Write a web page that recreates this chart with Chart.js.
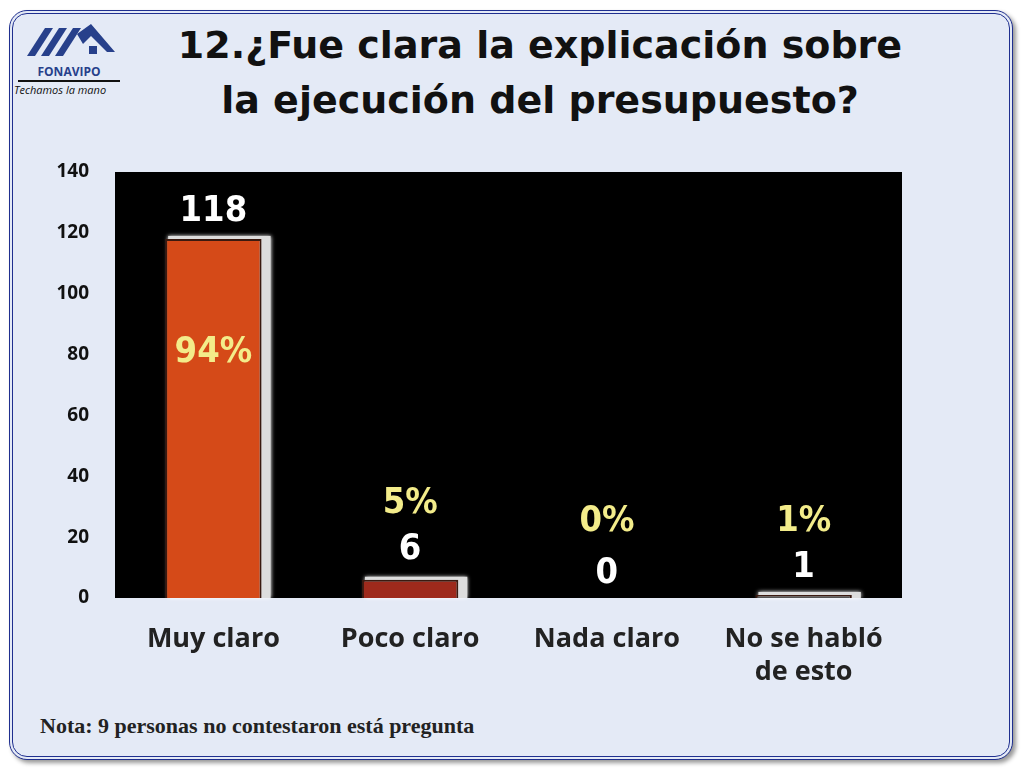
<!DOCTYPE html>
<html><head><meta charset="utf-8">
<script src="https://cdn.jsdelivr.net/npm/chart.js@4"></script>
<style>
html,body{margin:0;padding:0;width:1024px;height:768px;overflow:hidden;background:#fff;font-family:"Open Sans",sans-serif}
#frame{position:absolute;left:9px;top:10px;width:996px;height:742px;border:4px double #1f2f8f;border-radius:18px;background:#e4eaf6;box-shadow:3px 3px 4px #999}
#title{position:absolute;left:110px;width:860px;top:18px;text-align:center;font-family:"DejaVu Sans",sans-serif;font-weight:bold;font-size:38px;line-height:55px;color:#111}
#note{position:absolute;left:40px;top:713px;font-family:"Liberation Serif",serif;font-weight:bold;font-size:22px;color:#222}
#logo{position:absolute;left:14px;top:22px;width:110px;text-align:center}
#c{position:absolute;left:0;top:0}
</style></head><body>
<div id="frame"></div>
<div id="logo">
<svg width="100" height="36" viewBox="0 0 100 36"><g fill="#27408b"><polygon points="8,34 26,6 34,6 16,34"/><polygon points="22,34 40,6 48,6 30,34"/><polygon points="36,34 54,6 62,6 44,34"/><polygon points="58,12 72,2 96,30 88,30 72,14 64,22"/><rect x="70" y="24" width="8" height="8"/></g></svg>
<div style="font-weight:bold;font-size:12px;color:#27408b;border-bottom:2px solid #111;margin:0 4px">FONAVIPO</div>
<div style="font-style:italic;font-size:11px;color:#111;text-align:left">Techamos la mano</div>
</div>
<div id="title">12.¿Fue clara la explicación sobre<br>la ejecución del presupuesto?</div>
<div id="note">Nota: 9 personas no contestaron está pregunta</div>
<canvas id="c" width="1024" height="768"></canvas>
<script>
const categories=[["Muy claro"],["Poco claro"],["Nada claro"],["No se habló","de esto"]];
const values=[118,6,0,1];
const percents=["94%","5%","0%","1%"];
const barColors=["#d54a18","#9e2a1c","#555555","#555555"];
const yTicks=[0,20,40,60,80,100,120,140];

const deco={id:"deco",
beforeDraw(ch){const a=ch.chartArea,c=ch.ctx;c.save();c.fillStyle="#000";c.fillRect(a.left,a.top,a.right-a.left,a.bottom-a.top);c.restore();},
beforeDatasetsDraw(ch){const c=ch.ctx,m=ch.getDatasetMeta(0);c.save();c.fillStyle="#ddd";c.shadowColor="#fff";c.shadowBlur=4;
m.data.forEach((b,i)=>{if(values[i]<=0)return;const w=b.width;c.fillRect(b.x-w/2+3,b.y-3,w+6,b.base-b.y+3);});c.restore();},
afterDatasetsDraw(ch){const c=ch.ctx,m=ch.getDatasetMeta(0),y=ch.scales.y;c.save();c.textAlign="center";c.textBaseline="middle";c.font="bold 36px 'DejaVu Sans Condensed', sans-serif";
m.data.forEach((b,i)=>{
 if(i===0){c.fillStyle="#fff";c.fillText(String(values[i]),b.x,y.getPixelForValue(127));c.fillStyle="#f3ec8a";c.fillText(percents[i],b.x,y.getPixelForValue(80.5));}
 else{const vy=[0,16,8,10][i],py=[0,31,25,25][i];c.fillStyle="#fff";c.fillText(String(values[i]),b.x,y.getPixelForValue(vy));c.fillStyle="#f3ec8a";c.fillText(percents[i],b.x,y.getPixelForValue(py));}
});c.restore();}};

new Chart(document.getElementById("c"),{type:"bar",
data:{labels:categories,datasets:[{data:values,backgroundColor:barColors,borderColor:"#3a1a10",borderWidth:2,barPercentage:0.49,categoryPercentage:1}]},
options:{responsive:false,animation:false,layout:{padding:{top:172,right:122,left:0,bottom:0}},
plugins:{legend:{display:false},tooltip:{enabled:false}},
scales:{
 y:{min:0,max:140,afterBuildTicks(s){s.ticks=yTicks.map(v=>({value:v}));},afterFit(s){s.width=115;},
  grid:{display:false,drawTicks:false},border:{display:false},ticks:{padding:26,color:"#111",font:{size:19,weight:"bold",family:"Open Sans"}}},
 x:{afterFit(s){s.height=170;},grid:{display:false,drawTicks:false},border:{display:false},ticks:{padding:24,color:"#222",font:{size:27,weight:"bold",family:"Open Sans",lineHeight:1.25}}}
}},plugins:[deco]});
</script></body></html>
